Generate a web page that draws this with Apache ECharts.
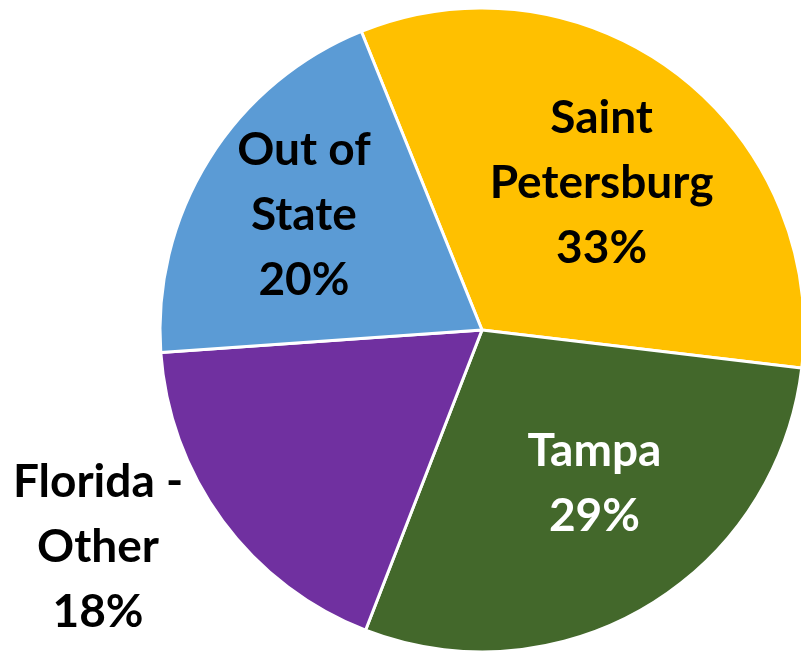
<!DOCTYPE html>
<html>
<head>
<meta charset="utf-8">
<script src="https://cdn.jsdelivr.net/npm/echarts@6/dist/echarts.min.js"></script>
<style>
  html, body { margin: 0; padding: 0; background: #fff; }
  #chart { width: 801px; height: 653px; }
</style>
</head>
<body>
<div id="chart"></div>
<script>
// slices, clockwise from the top-left edge
const names = ['Saint\nPetersburg', 'Tampa', 'Florida -\nOther', 'Out of\nState']
const values = [33, 29, 18, 20]
const colors = ['#FFC000', '#43682B', '#7030A0', '#5B9BD5']
const labelColors = ['#000', '#fff', '#000', '#000']

// nudges from the default "inside" spot, per slice
const labelShift = [[20, -17], [28, 13], [-252, 120], [-39, -28]]

const chart = echarts.init(document.getElementById('chart'))

const option = {
  animation: false,
  series: [
    {
      type: 'pie',
      center: [482, 330],
      radius: 322,
      startAngle: 112,
      clockwise: true,
      data: names.map((n, i) => ({
        name: n,
        value: values[i],
        itemStyle: { color: colors[i] },
        label: { color: labelColors[i] }
      })),
      itemStyle: {
        borderColor: '#fff',
        borderWidth: 3
      },
      label: {
        show: true,
        position: 'inside',
        formatter: (p) => `${p.name}\n${Math.round(p.percent)}%`,
        fontFamily: 'Lato',
        fontWeight: 'bold',
        fontSize: 46,
        lineHeight: 65,
        align: 'center'
      },
      labelLine: { show: false },
      labelLayout: (params) => {
        const s = labelShift[params.dataIndex]
        return { dx: s[0], dy: s[1] }
      },
      emphasis: { scale: false }
    }
  ]
}

chart.setOption(option)
window.addEventListener('resize', () => chart.resize())
</script>
</body>
</html>
